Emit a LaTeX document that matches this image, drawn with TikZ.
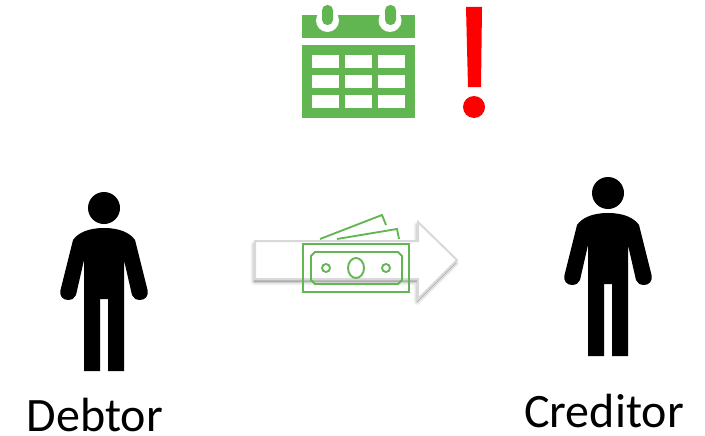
\documentclass[tikz,border=0pt]{standalone}
\usepackage{fontspec}
\setmainfont{Carlito}
\definecolor{cal}{HTML}{62B651}
\definecolor{arrowedge}{HTML}{D9D9D9}
\tikzset{
  px/.style={x=0.75pt,y=-0.75pt},
  lbl/.style={font=\fontsize{36}{40}\selectfont,text=black,inner sep=0pt,anchor=base},
  note/.style={draw=cal,line width=1.4pt,line join=miter},
  cell/.style={fill=white,draw=none},
  person/.pic={
    \fill[black] (104,208) circle (16);
    \fill[black] (104,228) .. controls (88,228) and (78,233) .. (73,240)
      -- (60.5,290) .. controls (59,296) and (63,300) .. (68,300)
      .. controls (72,300) and (75,298) .. (76,295)
      -- (84,260) -- (84,371) -- (100,371) -- (100,299) -- (108,299) -- (108,371) -- (124,371) -- (124,260)
      -- (132,295) .. controls (133,298) and (136,300) .. (140,300)
      .. controls (145,300) and (149,296) .. (147.5,290)
      -- (135,240) .. controls (130,233) and (120,228) .. (104,228) -- cycle;
  }
}
\begin{document}
\begin{tikzpicture}[px]
\useasboundingbox (0,0) rectangle (705,435);
% people
\pic at (0,0) {person};
\pic at (504,-15) {person};
\node[lbl] (debtor) at (95,431) {Debtor};
\node[lbl] (creditor) at (604,427) {Creditor};
% arrow shadow
\foreach \w/\o in {5/0.03,3.5/0.05,2/0.06,0.5/0.07}
  \draw[black,opacity=\o,fill=black,line width=\w,line join=round]
    (254,244) -- (417,244) -- (417,225) -- (456,263) -- (417,302) -- (417,282) -- (254,282) -- cycle;
% arrow
\draw[fill=white,draw=arrowedge,line width=1.5pt,line join=miter]
  (255,241) -- (418,241) -- (418,222) -- (457,260) -- (418,299) -- (418,279) -- (255,279) -- cycle;
% banknotes
\draw[note] (320,239) -- (382,215) -- (386,225);
\draw[note] (337,239) -- (397,229) -- (399,239);
\draw[note] (303,244) rectangle (409,292);
\draw[note] (315,252) -- (398,252) -- (402,256) -- (402,280) -- (398,284) -- (315,284) -- (311,280) -- (311,256) -- cycle;
\draw[note] (326,268) circle (4);
\draw[note] (386,268) circle (4);
\draw[note] (356,268) ellipse (8 and 10);
% calendar
\fill[cal] (302,15) rectangle (415,38);
\fill[white] (327.5,20.5) circle (11.5);
\fill[white] (390,20.5) circle (11.5);
\fill[white] (316,5) rectangle (339,15);
\fill[white] (378.5,5) rectangle (401.5,15);
\fill[cal,rounded corners=3.9pt] (322,5) rectangle (333,25);
\fill[cal,rounded corners=3.9pt] (385,5) rectangle (396,25);
\fill[cal] (302,45) rectangle (415,118);
\foreach \xa/\xb in {312/339,345/372,378/405}
  \foreach \ya/\yb in {55/68,75/88,95/108}
    \fill[cell] (\xa,\ya) rectangle (\xb,\yb);
% exclamation
\fill[red] (466,7) -- (482,7) -- (481,87) -- (468,87) -- cycle;
\fill[red] (474,107) circle (11);
\end{tikzpicture}
\end{document}
